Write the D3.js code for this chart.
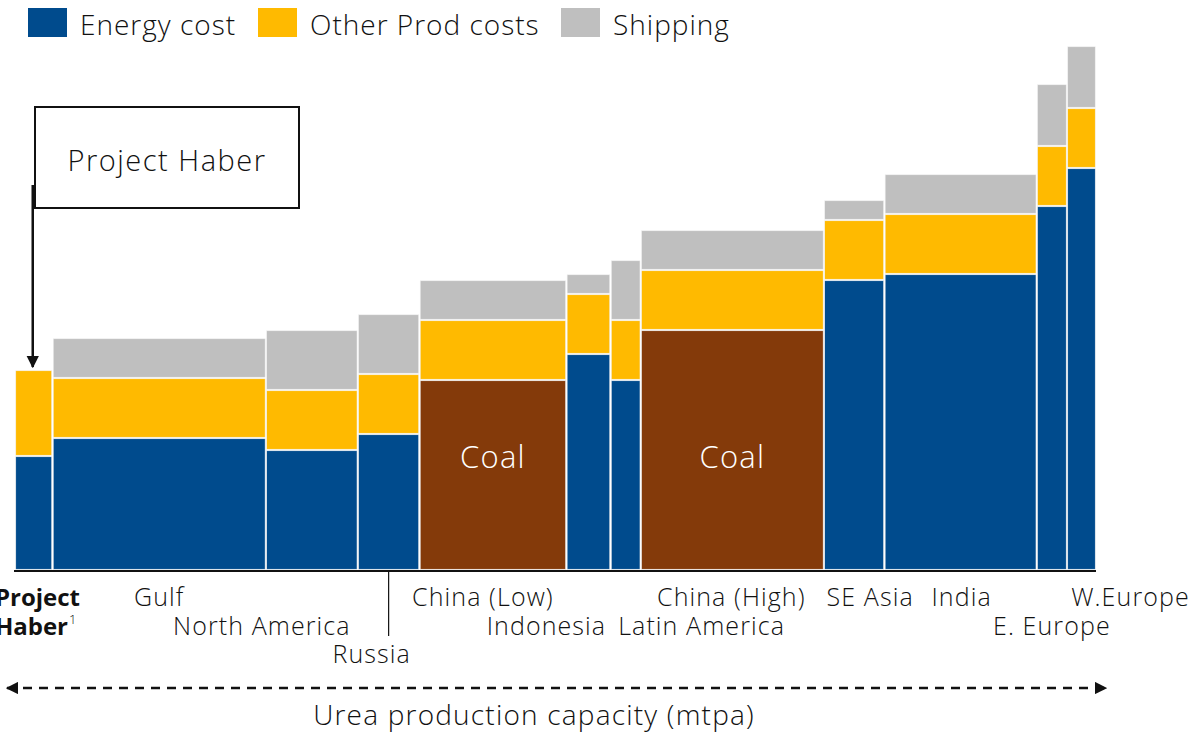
<!DOCTYPE html>
<html><head><meta charset="utf-8">
<script src="https://cdn.jsdelivr.net/npm/d3@7"></script>
<style>
body{margin:0;background:#fff;}
svg{display:block;font-family:"Open Sans",Arial,sans-serif;}
</style></head>
<body><svg id="c" width="1191" height="732"></svg>
<script>
// ---- data ----
const regions   = ["Project Haber","Gulf","North America","Russia","China (Low)","Indonesia","Latin America","China (High)","SE Asia","India","E. Europe","W.Europe"];
const capacity  = [6.2, 35.3, 15.2, 10.2, 24.3, 7.3, 5.0, 30.3, 10.0, 25.2, 5.0, 4.8]; // mtpa (bar widths)
const energy    = [57, 66, 60, 68, 95, 108, 95, 120, 145, 148, 182, 201];
const otherProd = [43, 30, 30, 30, 30, 30, 30, 30, 30, 30, 30, 30];
const shipping  = [0, 20, 30, 30, 20, 10, 30, 20, 10, 20, 31, 31];
const coalBased = [false,false,false,false,true,false,false,true,false,false,false,false];
const seriesNames = ["Energy cost","Other Prod costs","Shipping"];

// ---- layout ----
const colors = {energy:"#004B8D", coal:"#843A0A", other:"#FFBA00", ship:"#BFBFBF"};
const svg = d3.select("#c");
const x0 = 15, x1 = 1096, yBase = 570, yTop = 46;
const totalCap = d3.sum(capacity);
const x = d3.scaleLinear().domain([0,totalCap]).range([x0,x1]);
const maxTotal = d3.max(regions.map((r,i)=>energy[i]+otherProd[i]+shipping[i]));
const y = d3.scaleLinear().domain([0,maxTotal]).range([yBase,yTop]);

const cum = d3.cumsum(capacity);
const bars = regions.map((r,i)=>({
  name:r, start: i?cum[i-1]:0, end:cum[i],
  segs:[
    {v0:0, v1:energy[i], c: coalBased[i]?colors.coal:colors.energy},
    {v0:energy[i], v1:energy[i]+otherProd[i], c:colors.other},
    {v0:energy[i]+otherProd[i], v1:energy[i]+otherProd[i]+shipping[i], c:colors.ship}
  ].filter(s=>s.v1>s.v0),
  coal:coalBased[i]
}));

const g = svg.append("g");
bars.forEach(b=>{
  g.selectAll(null).data(b.segs).enter().append("rect")
    .attr("x", x(b.start)+0.75).attr("width", Math.max(0,x(b.end)-x(b.start)-1.5))
    .attr("y", d=>y(d.v1)+0.75).attr("height", d=>Math.max(0,y(d.v0)-y(d.v1)-1.5))
    .attr("fill", d=>d.c).attr("stroke","#f2f2f2").attr("stroke-width",0.6);
  if(b.coal){
    g.append("text").attr("x",(x(b.start)+x(b.end))/2).attr("y",y(57)+12)
      .attr("text-anchor","middle").attr("fill","#fff").attr("font-size",31).attr("letter-spacing",1.2).attr("font-weight",300).text("Coal");
  }
});

// baseline
svg.append("line").attr("x1",x0-1).attr("x2",x1).attr("y1",yBase+1).attr("y2",yBase+1)
  .attr("stroke","#111").attr("stroke-width",2);

// Russia divider
const russiaIdx = regions.indexOf("Russia");
const rc = (x(bars[russiaIdx].start)+x(bars[russiaIdx].end))/2;
svg.append("line").attr("x1",rc).attr("x2",rc).attr("y1",yBase+2).attr("y2",636).attr("stroke","#111").attr("stroke-width",1.2);

// category labels: row and nudge
const labelRow = [0,0,1,2,0,1,1,0,0,0,1,0];
const labelNudge = [0,0,-50,-17,-10,-42,76,-1,16,1,0,49];
const rowY = [606,635,663];
bars.forEach((b,i)=>{
  if(i===0) return;
  const cx = (x(b.start)+x(b.end))/2 + labelNudge[i];
  svg.append("text").attr("x",cx).attr("y",rowY[labelRow[i]]).attr("text-anchor","middle")
    .attr("font-size",25).attr("letter-spacing",1.1).attr("font-weight",300).attr("fill","#111").text(b.name);
});
// Project Haber label (bold, two lines)
const ph = svg.append("text").attr("text-anchor","end").attr("font-size",24).attr("font-weight",700).attr("fill","#111");
ph.append("tspan").attr("x",80).attr("y",606).text("Project");
ph.append("tspan").attr("x",68).attr("y",635).text("Haber");
svg.append("text").attr("x",69).attr("y",624).attr("font-size",13).attr("font-weight",300).attr("fill","#111").text("1");

// callout box
svg.append("rect").attr("x",35).attr("y",107).attr("width",264).attr("height",101)
  .attr("fill","#fff").attr("stroke","#111").attr("stroke-width",2);
svg.append("text").attr("x",167).attr("y",171).attr("text-anchor","middle").attr("font-size",29).attr("letter-spacing",1.5).attr("font-weight",300).attr("fill","#111").text("Project Haber");
const defs = svg.append("defs");
defs.append("marker").attr("id","ah").attr("viewBox","0 0 10 10").attr("refX",9).attr("refY",5)
  .attr("markerWidth",5).attr("markerHeight",5).attr("orient","auto-start-reverse").attr("markerUnits","strokeWidth")
  .append("path").attr("d","M0,0L10,5L0,10z").attr("fill","#111");
const phCx = (x(bars[0].start)+x(bars[0].end))/2 - 1;
svg.append("line").attr("x1",phCx).attr("x2",phCx).attr("y1",185).attr("y2",y(energy[0]+otherProd[0]+shipping[0])-3)
  .attr("stroke","#111").attr("stroke-width",2.5).attr("marker-end","url(#ah)");

// capacity arrow
svg.append("line").attr("x1",7).attr("x2",1106).attr("y1",688).attr("y2",688)
  .attr("stroke","#111").attr("stroke-width",2.5).attr("stroke-dasharray","9,7")
  .attr("marker-start","url(#ah)").attr("marker-end","url(#ah)");
svg.append("text").attr("x",534).attr("y",725).attr("text-anchor","middle").attr("font-size",28).attr("letter-spacing",1.2).attr("font-weight",300).attr("fill","#111")
  .text("Urea production capacity (mtpa)");

// legend
const legColors = [colors.energy, colors.other, colors.ship];
const legX = [28, 258, 561];
seriesNames.forEach((s,i)=>{
  svg.append("rect").attr("x",legX[i]).attr("y",8).attr("width",39).attr("height",29).attr("fill",legColors[i]);
  svg.append("text").attr("x",legX[i]+52).attr("y",35).attr("font-size",28).attr("letter-spacing",1).attr("font-weight",300).attr("fill","#111").text(s);
});
</script></body></html>
